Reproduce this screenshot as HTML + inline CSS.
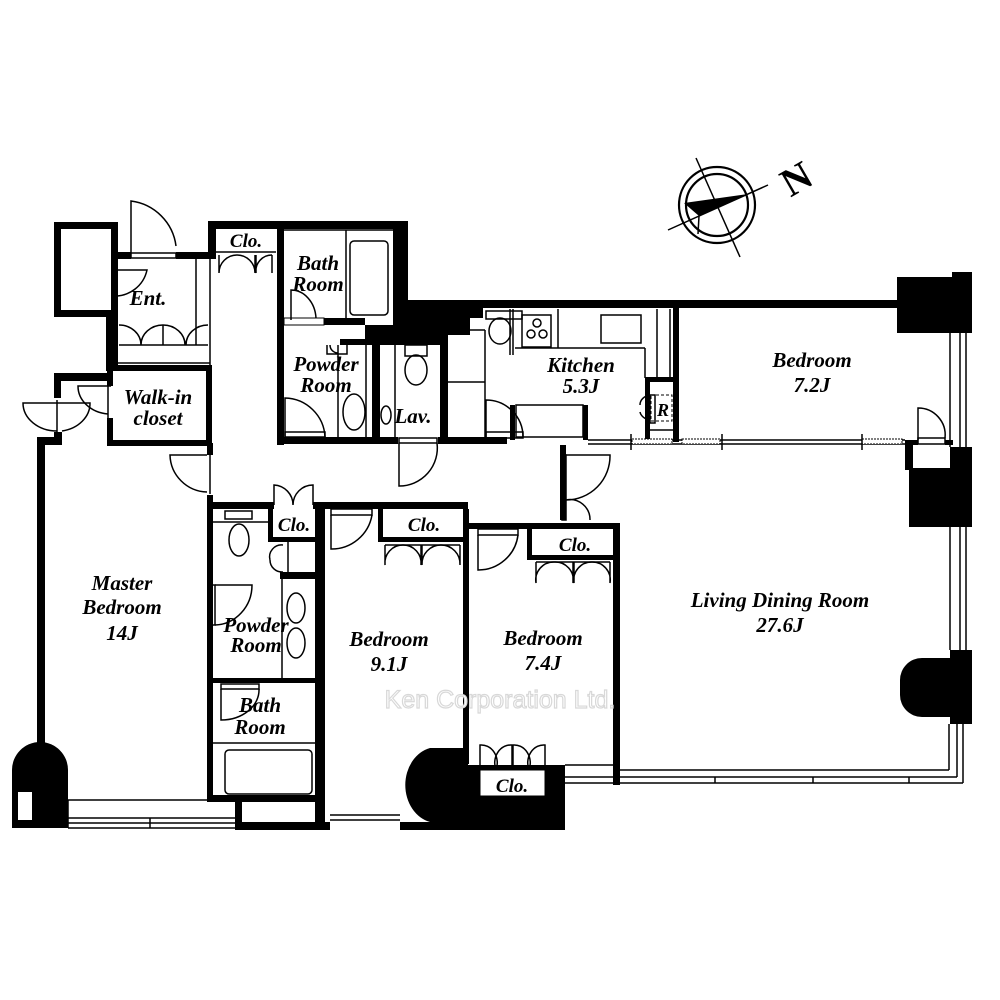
<!DOCTYPE html>
<html><head><meta charset="utf-8"><style>
html,body{margin:0;padding:0;background:#fff}
svg{display:block}
text{font-family:"Liberation Serif",serif;font-weight:bold;font-style:italic;font-size:21px;fill:#000;text-anchor:middle}
.t{fill:none;stroke:#000;stroke-width:1.5}
.w{fill:#000}
.wm{font-family:"Liberation Sans",sans-serif;font-style:normal;font-weight:normal;font-size:25px;fill:#fff;stroke:#d8d8d8;stroke-width:1.2}
</style></head><body>
<svg width="1000" height="1000" viewBox="0 0 1000 1000">
<g>
<circle cx="717" cy="205" r="38" fill="none" stroke="#000" stroke-width="2.2"/>
<circle cx="717" cy="205" r="31" fill="none" stroke="#000" stroke-width="2.2"/>
<line x1="668" y1="230" x2="768" y2="185" class="t"/>
<line x1="696" y1="158" x2="740" y2="257" class="t"/>
<polygon points="684,203 748,194 699,216" fill="#000"/>
<line x1="699" y1="216" x2="698" y2="234" class="t"/>
<text x="797" y="192" transform="rotate(-30 797 180)" style="font-style:normal;font-size:40px">N</text>
</g>
<rect x="57.5" y="225.5" width="57" height="88" fill="none" stroke="#000" stroke-width="7"/>
<rect class="w" x="114" y="252" width="17" height="7"/>
<rect class="w" x="176" y="252" width="40" height="7"/>
<rect class="t" x="131" y="253" width="45" height="5"/>
<path class="t" d="M131,253 L131,201 A52,52 0 0 1 176,246"/>
<rect class="w" x="106" y="313" width="12" height="58"/>
<path class="t" d="M113,270 h34 A33,33 0 0 1 113,296 Z"/>
<line class="t" x1="119" y1="345" x2="208" y2="345"/>
<line class="t" x1="196" y1="259" x2="196" y2="345"/>
<line class="t" x1="210" y1="259" x2="210" y2="365"/>
<line class="t" x1="163" y1="325" x2="163" y2="345"/>
<path class="t" d="M119,325 A22,20 0 0 1 141,345 M163,325 A22,20 0 0 0 141,345 M163,325 A22,20 0 0 1 185,345 M208,325 A22,20 0 0 0 186,345"/>
<line class="t" x1="118" y1="363" x2="210" y2="363"/>
<rect x="110" y="368" width="99" height="75" fill="none" stroke="#000" stroke-width="6"/>
<rect x="106" y="386" width="8" height="32" fill="#fff"/>
<line class="t" x1="108" y1="386" x2="108" y2="418"/>
<path class="t" d="M111,386 H78 A33,28 0 0 0 108,414"/>
<rect class="w" x="54" y="373" width="56" height="8"/>
<rect class="w" x="54" y="373" width="7" height="25"/>
<rect class="w" x="54" y="432" width="8" height="10"/>
<rect class="w" x="37" y="437" width="25" height="8"/>
<rect class="w" x="37" y="437" width="8" height="320"/>
<line class="t" x1="57" y1="400" x2="57" y2="432"/>
<path class="t" d="M57,403 H23 A34,28 0 0 0 57,431 M57,403 H90 A34,28 0 0 1 62,431"/>
<path class="w" d="M12,828 V770 A28,28 0 0 1 68,770 V828 Z"/>
<rect x="18" y="792" width="14" height="28" fill="#fff"/>
<rect class="w" x="207" y="443" width="6" height="12"/>
<rect class="w" x="207" y="495" width="6" height="305"/>
<path class="t" d="M207,455 H170 A38,38 0 0 0 207,492"/>
<line class="t" x1="210" y1="455" x2="210" y2="494"/>
<rect class="w" x="208" y="221" width="200" height="8"/>
<rect class="w" x="208" y="221" width="8" height="32"/>
<line class="t" x1="216" y1="252" x2="276" y2="252"/>
<path class="t" d="M219,255 V273 A18,18 0 0 1 237,255 M255,255 V273 A18,18 0 0 0 237,255 M256,255 V273 A16,16 0 0 1 272,255 M272,255 V273"/>
<text x="246" y="247" style="font-size:19px">Clo.</text>
<rect class="w" x="277" y="229" width="7" height="216"/>
<polygon class="w" points="400,222 408,222 408,300 900,300 900,308 483,308 483,318 470,318 470,335 447,335 447,345 340,345 340,339 365,339 365,325 393,325 393,229 400,229"/>
<rect class="w" x="277" y="318" width="88" height="7"/>
<rect x="284" y="318" width="40" height="7" fill="#fff" stroke="#000"/>
<line class="t" x1="284" y1="230" x2="393" y2="230"/>
<line class="t" x1="346" y1="230" x2="346" y2="318"/>
<rect class="t" x="350" y="241" width="38" height="74" rx="4"/>
<path class="t" d="M291,320 V290 A25,30 0 0 1 316,318"/>
<text x="318" y="270">Bath</text><text x="318" y="291">Room</text>
<rect class="w" x="277" y="437" width="230" height="7"/>
<line class="t" x1="338" y1="345" x2="338" y2="437"/>
<line class="t" x1="366" y1="345" x2="366" y2="437"/>
<ellipse class="t" cx="354" cy="412" rx="11" ry="18"/>
<path class="t" d="M327,345 v9 h20 v-9 M330,345 A8,8 0 0 0 338,353"/>
<path class="t" d="M285,437 V398 A41,41 0 0 1 325,437"/>
<rect class="t" x="285" y="432" width="40" height="5"/>
<text x="326" y="371">Powder</text><text x="326" y="392">Room</text>
<rect class="w" x="372" y="345" width="8" height="95"/>
<rect class="w" x="440" y="318" width="8" height="122"/>
<rect class="t" x="405" y="345" width="22" height="11"/>
<ellipse class="t" cx="416" cy="370" rx="11" ry="15"/>
<ellipse class="t" cx="386" cy="415" rx="5" ry="9"/>
<line class="t" x1="395" y1="345" x2="395" y2="437"/>
<text x="413" y="423">Lav.</text>
<rect x="398" y="437" width="40" height="7" fill="#fff"/>
<rect class="t" x="399" y="438" width="38" height="5"/>
<path class="t" d="M399,443 V486 A38,38 0 0 0 437,443"/>
<line class="t" x1="448" y1="330" x2="485" y2="330"/>
<line class="t" x1="448" y1="382" x2="485" y2="382"/>
<line class="t" x1="485" y1="330" x2="485" y2="437"/>
<rect class="t" x="486" y="311" width="36" height="8"/>
<ellipse class="t" cx="500" cy="331" rx="11" ry="13"/>
<path class="t" d="M486,437 V400 A37,37 0 0 1 523,437"/>
<rect class="t" x="486" y="432" width="37" height="6"/>
<line class="t" x1="510" y1="309" x2="510" y2="355"/>
<line class="t" x1="513" y1="309" x2="513" y2="355"/>
<rect class="w" x="510" y="405" width="5" height="35"/>
<line class="t" x1="515" y1="348" x2="645" y2="348"/>
<line class="t" x1="645" y1="348" x2="645" y2="378"/>
<line class="t" x1="558" y1="309" x2="558" y2="348"/>
<rect class="t" x="522" y="315" width="29" height="32"/>
<circle class="t" cx="537" cy="323" r="4"/><circle class="t" cx="531" cy="334" r="4"/><circle class="t" cx="543" cy="334" r="4"/>
<rect class="t" x="601" y="315" width="40" height="28"/>
<line class="t" x1="657" y1="309" x2="657" y2="377"/>
<line class="t" x1="670" y1="309" x2="670" y2="377"/>
<rect class="w" x="673" y="308" width="6" height="134"/>
<rect class="t" x="516" y="405" width="67" height="32"/>
<rect class="w" x="583" y="405" width="5" height="35"/>
<rect class="w" x="645" y="377" width="28" height="5"/>
<rect class="w" x="645" y="377" width="5" height="65"/>
<rect class="t" x="650" y="395" width="5" height="28"/>
<rect x="651" y="395" width="21" height="26" fill="none" stroke="#000" stroke-dasharray="3,2"/>
<text x="663" y="416" style="font-size:18px">R</text>
<line class="t" x1="650" y1="430" x2="673" y2="430"/>
<path class="t" d="M650,395 A12,10 0 0 0 640,405 M650,420 A12,10 0 0 1 640,412"/>
<text x="581" y="372">Kitchen</text><text x="581" y="393">5.3J</text>
<line class="t" x1="588" y1="440" x2="905" y2="440"/>
<line class="t" x1="588" y1="444" x2="905" y2="444"/>
<rect x="632" y="439" width="40" height="5" fill="#fff" stroke="#000" stroke-dasharray="2,1"/>
<rect x="682" y="439" width="38" height="5" fill="#fff" stroke="#000" stroke-dasharray="2,1"/>
<rect x="862" y="439" width="40" height="5" fill="#fff" stroke="#000" stroke-dasharray="2,1"/>
<line class="t" x1="631" y1="434" x2="631" y2="450"/><line class="t" x1="722" y1="434" x2="722" y2="450"/><line class="t" x1="862" y1="434" x2="862" y2="450"/>
<text x="812" y="367">Bedroom</text><text x="812" y="392">7.2J</text>
<rect class="w" x="905" y="440" width="8" height="30"/>
<rect class="w" x="913" y="440" width="5" height="5"/>
<rect class="t" x="918" y="438" width="27" height="6"/>
<path class="t" d="M918,440 V408 A27,27 0 0 1 945,438"/>
<rect class="w" x="945" y="440" width="8" height="5"/>
<polygon class="w" points="897,277 952,277 952,272 972,272 972,333 897,333"/>
<line class="t" x1="950" y1="333" x2="950" y2="447"/>
<line class="t" x1="960" y1="333" x2="960" y2="447"/><line class="t" x1="966" y1="333" x2="966" y2="447"/>
<polygon class="w" points="909,447 913,447 913,468 950,468 950,447 972,447 972,527 909,527"/>
<line class="t" x1="950" y1="527" x2="950" y2="650"/>
<line class="t" x1="960" y1="527" x2="960" y2="650"/><line class="t" x1="966" y1="527" x2="966" y2="650"/>
<path class="w" d="M950,650 H972 V724 H950 V717 H922 A22,22 0 0 1 900,695 V680 A22,22 0 0 1 922,658 H950 Z"/>
<line class="t" x1="949" y1="724" x2="949" y2="770"/>
<line class="t" x1="957" y1="724" x2="957" y2="777"/>
<line class="t" x1="963" y1="724" x2="963" y2="783"/>
<line class="t" x1="620" y1="770" x2="949" y2="770"/>
<line class="t" x1="565" y1="777" x2="957" y2="777"/>
<line class="t" x1="565" y1="783" x2="963" y2="783"/>
<line class="t" x1="715" y1="777" x2="715" y2="783"/><line class="t" x1="813" y1="777" x2="813" y2="783"/><line class="t" x1="909" y1="777" x2="909" y2="783"/>
<rect class="w" x="560" y="445" width="6" height="75"/>
<rect class="t" x="562" y="455" width="4" height="65"/>
<path class="t" d="M566,455 H610 A44,44 0 0 1 566,500 M566,500 A20,20 0 0 1 590,520"/>
<text x="780" y="607">Living Dining Room</text><text x="780" y="632">27.6J</text>
<rect class="w" x="207" y="502" width="67" height="7"/>
<rect class="w" x="313" y="502" width="155" height="7"/>
<path class="t" d="M274,505 V485 A20,20 0 0 1 293,505 M313,505 V485 A20,20 0 0 0 293,505"/>
<rect class="w" x="268" y="509" width="5" height="32"/>
<rect class="w" x="268" y="537" width="50" height="5"/>
<text x="294" y="531" style="font-size:19px">Clo.</text>
<rect class="t" x="225" y="511" width="27" height="8"/>
<ellipse class="t" cx="239" cy="540" rx="10" ry="16"/>
<line class="t" x1="213" y1="522" x2="268" y2="522"/>
<rect class="w" x="280" y="572" width="38" height="7"/>
<line class="t" x1="288" y1="542" x2="288" y2="572"/>
<path class="t" d="M283,545 A12,12 0 0 0 270,560 M283,572 A12,12 0 0 1 270,560"/>
<line class="t" x1="282" y1="579" x2="282" y2="680"/>
<ellipse class="t" cx="296" cy="608" rx="9" ry="15"/><ellipse class="t" cx="296" cy="643" rx="9" ry="15"/>
<rect class="t" x="209" y="585" width="6" height="40"/>
<path class="t" d="M215,585 H252 A38,40 0 0 1 215,625"/>
<text x="256" y="632">Powder</text><text x="256" y="652">Room</text>
<rect class="w" x="212" y="678" width="106" height="5"/>
<rect class="w" x="315" y="502" width="10" height="328"/>
<rect class="t" x="221" y="684" width="38" height="5"/>
<path class="t" d="M221,689 V720 A38,30 0 0 0 259,689"/>
<text x="260" y="712">Bath</text><text x="260" y="734">Room</text>
<line class="t" x1="213" y1="743" x2="318" y2="743"/>
<rect class="t" x="225" y="750" width="87" height="44" rx="4"/>
<rect class="w" x="207" y="795" width="111" height="7"/>
<rect class="w" x="235" y="802" width="7" height="28"/>
<line class="t" x1="68" y1="800" x2="207" y2="800"/>
<line class="t" x1="68" y1="818" x2="235" y2="818"/>
<line class="t" x1="68" y1="823" x2="235" y2="823"/>
<line class="t" x1="68" y1="828" x2="235" y2="828"/>
<line class="t" x1="150" y1="818" x2="150" y2="828"/>
<line class="t" x1="68" y1="800" x2="68" y2="828"/>
<rect class="w" x="235" y="822" width="95" height="8"/>
<text x="389" y="646">Bedroom</text><text x="389" y="671">9.1J</text>
<rect class="w" x="378" y="509" width="5" height="32"/>
<rect class="w" x="378" y="537" width="90" height="5"/>
<rect class="w" x="463" y="509" width="6" height="255"/>
<text x="424" y="531" style="font-size:19px">Clo.</text>
<path class="t" d="M385,545 V565 A18,18 0 0 1 403,545 M421,545 V565 A18,18 0 0 0 403,545 M422,545 V565 A19,19 0 0 1 441,545 M460,545 V565 A19,19 0 0 0 441,545"/>
<line class="t" x1="385" y1="545" x2="460" y2="545"/>
<rect class="t" x="331" y="509" width="41" height="6"/>
<path class="t" d="M331,515 V549 A41,41 0 0 0 372,515"/>
<line class="t" x1="330" y1="815" x2="400" y2="815"/>
<line class="t" x1="330" y1="820" x2="400" y2="820"/>
<path class="w" d="M468,748 H430 A32,38 0 0 0 430,822 H400 V830 H565 V765 H468 Z"/>
<rect x="480" y="770" width="65" height="26" fill="#fff" stroke="#000"/>
<text x="512" y="792" style="font-size:19px">Clo.</text>
<path class="t" d="M480,770 V745 A16,18 0 0 1 496,770 M512,770 V745 A16,18 0 0 0 496,770 M513,770 V745 A16,18 0 0 1 529,770 M545,770 V745 A16,18 0 0 0 529,770"/>
<rect class="w" x="465" y="523" width="155" height="6"/>
<rect class="w" x="613" y="523" width="7" height="262"/>
<rect class="w" x="527" y="529" width="5" height="30"/>
<rect class="w" x="527" y="555" width="86" height="5"/>
<text x="575" y="551" style="font-size:19px">Clo.</text>
<path class="t" d="M536,562 V583 A18,18 0 0 1 554,562 M573,562 V583 A18,18 0 0 0 554,562 M574,562 V583 A18,18 0 0 1 592,562 M610,562 V583 A18,18 0 0 0 592,562"/>
<line class="t" x1="536" y1="562" x2="610" y2="562"/>
<rect class="t" x="478" y="529" width="40" height="6"/>
<path class="t" d="M478,535 V570 A40,40 0 0 0 518,535"/>
<text x="543" y="645">Bedroom</text><text x="543" y="670">7.4J</text>
<line class="t" x1="565" y1="765" x2="613" y2="765"/>
<text x="500" y="708" class="wm">Ken Corporation Ltd.</text>
<text x="148" y="305">Ent.</text>
<text x="158" y="404">Walk-in</text><text x="158" y="425">closet</text>
<text x="122" y="590">Master</text><text x="122" y="614">Bedroom</text><text x="122" y="640">14J</text>
</svg>
</body></html>
